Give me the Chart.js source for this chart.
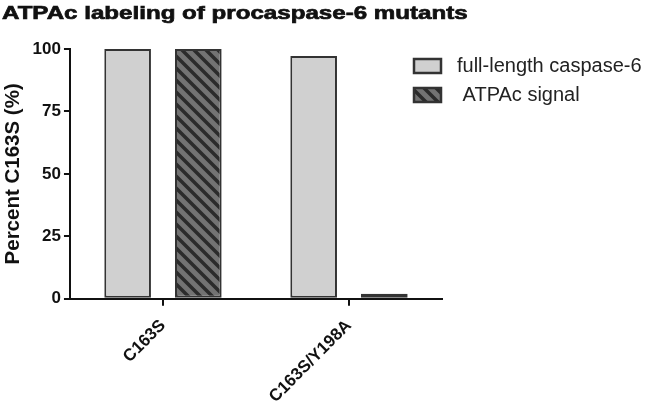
<!DOCTYPE html>
<html><head><meta charset="utf-8">
<script src="https://cdn.jsdelivr.net/npm/chart.js@4.4.1/dist/chart.umd.min.js"></script>
<style>html,body{margin:0;padding:0;background:#fff}#wrap{width:645px;height:409px}</style>
</head><body><div id="wrap"><canvas id="c"></canvas></div>
<script>
const categories = ["C163S", "C163S/Y198A"];
const fullLength = [100, 97.2];
const atpacSignal = [100, 2];
const seriesNames = ["full-length caspase-6", " ATPAc signal"];
const yTicks = [0, 25, 50, 75, 100];
const chartTitle = "ATPAc labeling of procaspase-6 mutants";

function hatch() {
  const s = 12;
  const c = document.createElement('canvas');
  c.width = s; c.height = s;
  const g = c.getContext('2d');
  g.fillStyle = '#737373'; g.fillRect(0, 0, s, s);
  g.strokeStyle = '#2b2b2b'; g.lineWidth = 3.5;
  g.beginPath();
  for (let k = -1; k <= 1; k++) {
    g.moveTo(k * s - 2, -2); g.lineTo(k * s + s + 2, s + 2);
  }
  g.stroke();
  return g.createPattern(c, 'repeat');
}
const FONT = "'Liberation Sans', Arial, sans-serif";
const legendPlugin = {
  id: 'customLegend',
  afterDraw(chart) {
    const ctx = chart.ctx;
    const items = chart.data.datasets;
    const x0 = 414, ys = [59, 88];
    ctx.save();
    items.forEach((ds, i) => {
      ctx.fillStyle = ds.backgroundColor;
      ctx.fillRect(x0, ys[i], 27, 14);
      ctx.strokeStyle = '#333'; ctx.lineWidth = 2.5;
      ctx.strokeRect(x0, ys[i], 27, 14);
      ctx.fillStyle = '#222';
      ctx.font = "20px " + FONT;
      ctx.textBaseline = 'middle';
      ctx.fillText(ds.label, 457, ys[i] + 7);
    });
    // title, drawn slightly widened like the reference
    ctx.font = "bold 19px " + FONT;
    ctx.fillStyle = '#111';
    ctx.strokeStyle = '#111';
    ctx.lineWidth = 0.7;
    ctx.textBaseline = 'alphabetic';
    ctx.translate(2, 19);
    ctx.scale(1.27, 1);
    ctx.fillText(chartTitle, 0, 0);
    ctx.strokeText(chartTitle, 0, 0);
    ctx.restore();
  }
};
new Chart(document.getElementById('c'), {
  type: 'bar',
  data: {
    labels: categories,
    datasets: [
      { label: seriesNames[0], data: fullLength, backgroundColor: '#d0d0d0', borderColor: '#333', borderWidth: 2, borderSkipped: false },
      { label: seriesNames[1], data: atpacSignal, backgroundColor: hatch(), borderColor: '#333', borderWidth: 2, borderSkipped: false }
    ]
  },
  options: {
    responsive: true, maintainAspectRatio: false, animation: false,
    categoryPercentage: 0.76, barPercentage: 0.66,
    layout: { padding: { left: 1, right: 203, top: 49, bottom: -8 } },
    plugins: {
      legend: { display: false },
      tooltip: { enabled: false },
      title: { display: false }
    },
    scales: {
      x: {
        grid: { display: true, drawOnChartArea: false, offset: false, color: '#111', lineWidth: 2, tickLength: 7 },
        border: { color: '#111', width: 2 },
        ticks: { color: '#111', maxRotation: 45, minRotation: 45, font: { family: FONT, size: 17, weight: 'bold' }, padding: 10 }
      },
      y: {
        min: 0, max: 100,
        afterBuildTicks(ax) { ax.ticks = yTicks.map(v => ({ value: v })); },
        grid: { display: true, drawOnChartArea: false, color: '#111', lineWidth: 2, tickLength: 6 },
        border: { color: '#111', width: 2 },
        ticks: { color: '#111', font: { family: FONT, size: 17, weight: 'bold' }, padding: 3 },
        title: { display: true, text: 'Percent C163S (%)', color: '#111', font: { family: FONT, size: 20.5, weight: 'bold' }, padding: { top: 0, bottom: 4 } }
      }
    }
  },
  plugins: [legendPlugin]
});
</script></body></html>
